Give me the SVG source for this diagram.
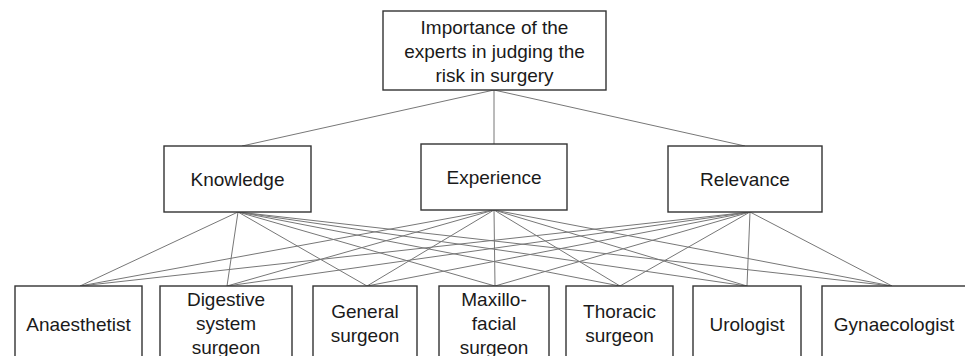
<svg xmlns="http://www.w3.org/2000/svg" width="965" height="356" viewBox="0 0 965 356">
<style>
.box{fill:#fff;stroke:#333;stroke-width:1.4}
.t{font-family:"Liberation Sans",Arial,sans-serif;font-size:19px;fill:#1a1a1a;text-anchor:middle}
.c line{stroke:#777;stroke-width:1}
</style>
<rect width="965" height="356" fill="#fff"/>
<g class="c" id="connectors">
<line x1="494" y1="90" x2="242" y2="146"/>
<line x1="494" y1="90" x2="494" y2="144"/>
<line x1="494" y1="90" x2="745" y2="146"/>
<line x1="238" y1="212" x2="80" y2="286"/>
<line x1="238" y1="212" x2="227" y2="286"/>
<line x1="238" y1="212" x2="367" y2="286"/>
<line x1="238" y1="212" x2="495" y2="286"/>
<line x1="238" y1="212" x2="620" y2="286"/>
<line x1="238" y1="212" x2="747" y2="286"/>
<line x1="238" y1="212" x2="892" y2="286"/>
<line x1="494" y1="210" x2="80" y2="286"/>
<line x1="494" y1="210" x2="227" y2="286"/>
<line x1="494" y1="210" x2="367" y2="286"/>
<line x1="494" y1="210" x2="495" y2="286"/>
<line x1="494" y1="210" x2="620" y2="286"/>
<line x1="494" y1="210" x2="747" y2="286"/>
<line x1="494" y1="210" x2="892" y2="286"/>
<line x1="750" y1="212" x2="80" y2="286"/>
<line x1="750" y1="212" x2="227" y2="286"/>
<line x1="750" y1="212" x2="367" y2="286"/>
<line x1="750" y1="212" x2="495" y2="286"/>
<line x1="750" y1="212" x2="620" y2="286"/>
<line x1="750" y1="212" x2="747" y2="286"/>
<line x1="750" y1="212" x2="892" y2="286"/>
</g>
<g id="goal">
<rect class="box" x="383" y="11" width="223" height="79"/>
<text class="t" x="494.5" y="34">Importance of the</text>
<text class="t" x="494.5" y="58">experts in judging the</text>
<text class="t" x="494.5" y="82">risk in surgery</text>
</g>
<g id="knowledge">
<rect class="box" x="164" y="146" width="147" height="66"/>
<text class="t" x="237.5" y="186">Knowledge</text>
</g>
<g id="experience">
<rect class="box" x="421" y="144" width="146" height="66"/>
<text class="t" x="494" y="184">Experience</text>
</g>
<g id="relevance">
<rect class="box" x="668" y="146" width="154" height="66"/>
<text class="t" x="745" y="186">Relevance</text>
</g>
<g id="anaesthetist">
<rect class="box" x="15" y="286" width="127" height="90"/>
<text class="t" x="78.5" y="331">Anaesthetist</text>
</g>
<g id="digestive">
<rect class="box" x="160" y="286" width="132" height="90"/>
<text class="t" x="226" y="306">Digestive</text>
<text class="t" x="226" y="330">system</text>
<text class="t" x="226" y="354">surgeon</text>
</g>
<g id="general">
<rect class="box" x="313" y="286" width="104" height="90"/>
<text class="t" x="365" y="318">General</text>
<text class="t" x="365" y="342">surgeon</text>
</g>
<g id="maxillofacial">
<rect class="box" x="439" y="286" width="110" height="90"/>
<text class="t" x="494" y="306">Maxillo-</text>
<text class="t" x="494" y="330">facial</text>
<text class="t" x="494" y="354">surgeon</text>
</g>
<g id="thoracic">
<rect class="box" x="566" y="286" width="107" height="90"/>
<text class="t" x="619.5" y="318">Thoracic</text>
<text class="t" x="619.5" y="342">surgeon</text>
</g>
<g id="urologist">
<rect class="box" x="693" y="286" width="108" height="90"/>
<text class="t" x="747" y="331">Urologist</text>
</g>
<g id="gynaecologist">
<rect class="box" x="822" y="286" width="160" height="90"/>
<text class="t" x="894" y="331">Gynaecologist</text>
</g>
</svg>
